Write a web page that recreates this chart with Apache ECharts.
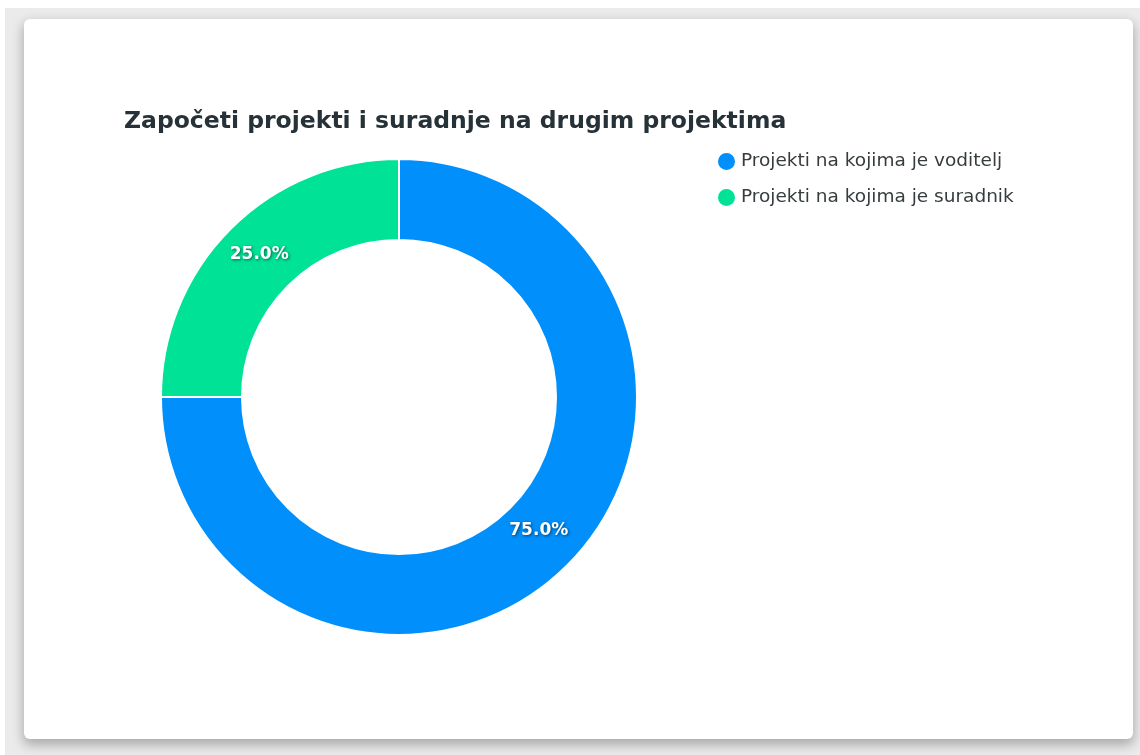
<!DOCTYPE html>
<html>
<head>
<meta charset="utf-8">
<script src="https://cdn.jsdelivr.net/npm/echarts@6/dist/echarts.min.js"></script>
<style>
  html, body { margin: 0; padding: 0; width: 1140px; height: 755px; background: #ffffff; overflow: hidden; }
  #bg { position: absolute; left: 5px; top: 8px; right: 0; bottom: 0; background: #ebebeb; }
  #card { position: absolute; left: 24px; top: 19px; width: 1109px; height: 720px; background: #fff; border-radius: 6px;
          box-shadow: 0 5px 12px 1px rgba(0,0,0,0.28); }
  #chart { position: absolute; left: 0; top: 0; width: 1140px; height: 755px; }
</style>
</head>
<body>
<div id="bg"></div>
<div id="card"></div>
<div id="chart"></div>
<script>
const titleText = 'Započeti projekti i suradnje na drugim projektima';
const categories = ['Projekti na kojima je voditelj', 'Projekti na kojima je suradnik'];
const values = [75, 25];
const colors = ['#008FFB', '#00E396'];

const FONT = "'DejaVu Sans', Verdana, sans-serif";
const labelOffsets = [[-2, -8], [2, -1]];

const chart = echarts.init(document.getElementById('chart'), null, { renderer: 'canvas' });
chart.setOption({
  animation: false,
  backgroundColor: 'transparent',
  color: colors,
  title: {
    text: titleText,
    left: 124, top: 110, padding: 0,
    textStyle: { fontFamily: FONT, fontSize: 23.5, fontWeight: 'bold', color: '#263238' }
  },
  legend: {
    orient: 'vertical', left: 716, top: 151, padding: 0,
    icon: 'circle', itemWidth: 19, itemHeight: 19, itemGap: 15,
    data: categories,
    textStyle: { fontFamily: FONT, fontSize: 18.5, color: '#373d3f' }
  },
  series: [{
    type: 'pie',
    center: [399, 397],
    radius: [157, 238],
    startAngle: 90,
    clockwise: true,
    avoidLabelOverlap: false,
    itemStyle: { borderColor: '#fff', borderWidth: 2 },
    label: {
      show: true, position: 'inside',
      formatter: function (p) { return p.percent.toFixed(1) + '%'; },
      fontFamily: FONT, fontSize: 17, fontWeight: 'bold', color: '#fff',
      textShadowColor: 'rgba(0,0,0,0.55)', textShadowBlur: 3, textShadowOffsetX: 1, textShadowOffsetY: 1
    },
    labelLine: { show: false },
    emphasis: { disabled: true },
    data: categories.map((c, i) => ({ name: c, value: values[i], label: { offset: labelOffsets[i] } }))
  }]
});
</script>
</body>
</html>
